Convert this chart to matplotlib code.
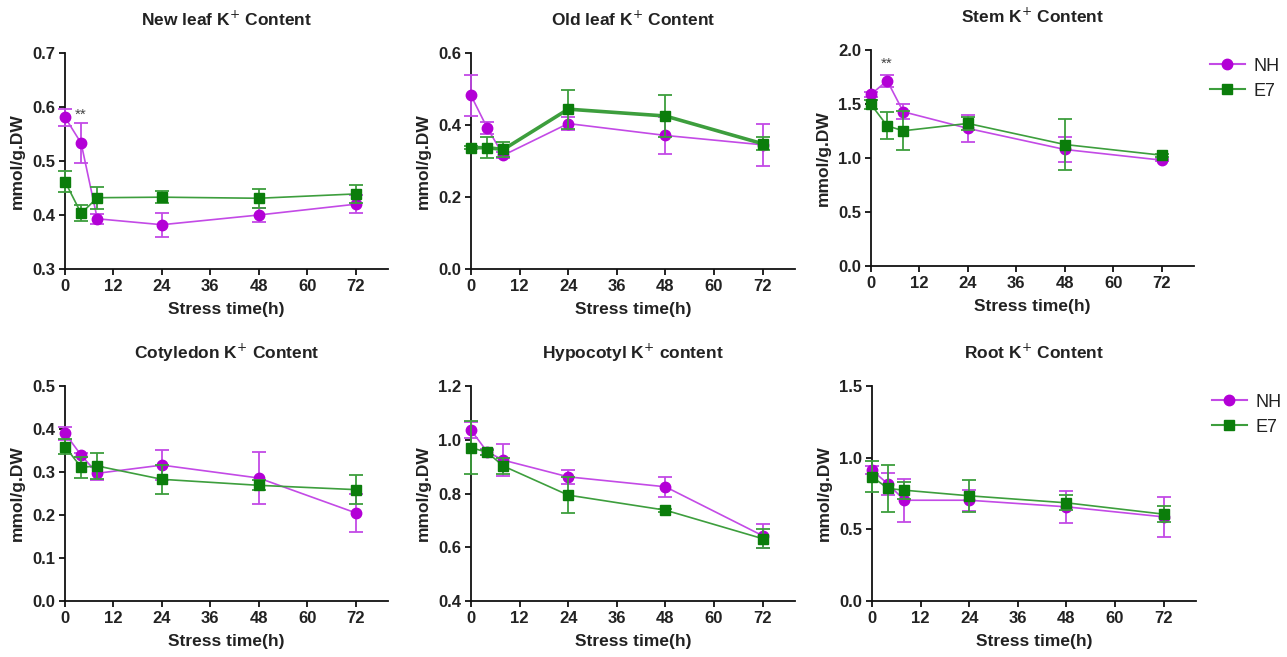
import matplotlib
matplotlib.use("Agg")
import matplotlib.pyplot as plt
from matplotlib.lines import Line2D

plt.rcParams['font.family'] = ['Liberation Sans', 'DejaVu Sans']

hours = [0, 4, 8, 24, 48, 72]
xticks = [0, 12, 24, 36, 48, 60, 72]

titles = ["New leaf K$^{+}$ Content", "Old leaf K$^{+}$ Content", "Stem K$^{+}$ Content",
          "Cotyledon K$^{+}$ Content", "Hypocotyl K$^{+}$ content", "Root K$^{+}$ Content"]

# NH means / errors
nh_newleaf = [0.581, 0.533, 0.393, 0.382, 0.400, 0.420]
nh_newleaf_err = [0.016, 0.037, 0.009, 0.022, 0.013, 0.017]
nh_oldleaf = [0.482, 0.392, 0.316, 0.404, 0.371, 0.345]
nh_oldleaf_err = [0.056, 0.016, 0.008, 0.017, 0.051, 0.059]
nh_stem = [1.589, 1.716, 1.428, 1.274, 1.079, 0.980]
nh_stem_err = [0.02, 0.055, 0.07, 0.125, 0.12, 0.01]
nh_coty = [0.390, 0.339, 0.297, 0.316, 0.286, 0.205]
nh_coty_err = [0.015, 0.005, 0.015, 0.035, 0.060, 0.044]
nh_hypo = [1.036, 0.955, 0.924, 0.862, 0.825, 0.643]
nh_hypo_err = [0.03, 0.01, 0.06, 0.026, 0.037, 0.044]
nh_root = [0.913, 0.815, 0.703, 0.703, 0.657, 0.587]
nh_root_err = [0.03, 0.078, 0.15, 0.072, 0.112, 0.137]

# E7 means / errors
e7_newleaf = [0.462, 0.403, 0.432, 0.433, 0.431, 0.439]
e7_newleaf_err = [0.02, 0.015, 0.02, 0.011, 0.018, 0.016]
e7_oldleaf = [0.337, 0.337, 0.332, 0.444, 0.425, 0.348]
e7_oldleaf_err = [0.005, 0.029, 0.02, 0.054, 0.057, 0.018]
e7_stem = [1.496, 1.298, 1.252, 1.320, 1.125, 1.026]
e7_stem_err = [0.04, 0.125, 0.18, 0.06, 0.235, 0.015]
e7_coty = [0.359, 0.311, 0.314, 0.283, 0.269, 0.259]
e7_coty_err = [0.017, 0.025, 0.031, 0.034, 0.012, 0.033]
e7_hypo = [0.971, 0.953, 0.902, 0.794, 0.738, 0.632]
e7_hypo_err = [0.097, 0.01, 0.03, 0.068, 0.006, 0.035]
e7_root = [0.866, 0.785, 0.773, 0.734, 0.685, 0.606]
e7_root_err = [0.108, 0.166, 0.058, 0.11, 0.052, 0.055]

ylims = [(0.3, 0.7), (0.0, 0.6), (0.0, 2.0), (0.0, 0.5), (0.4, 1.2), (0.0, 1.5)]
yticks = [[0.3, 0.4, 0.5, 0.6, 0.7], [0.0, 0.2, 0.4, 0.6], [0.0, 0.5, 1.0, 1.5, 2.0],
          [0.0, 0.1, 0.2, 0.3, 0.4, 0.5], [0.4, 0.6, 0.8, 1.0, 1.2], [0.0, 0.5, 1.0, 1.5]]

# significance marks: (panel, x, y)
sig_marks = [(0, 4, 0.585), (2, 4, 1.87)]

nh_data = [(nh_newleaf, nh_newleaf_err), (nh_oldleaf, nh_oldleaf_err), (nh_stem, nh_stem_err),
           (nh_coty, nh_coty_err), (nh_hypo, nh_hypo_err), (nh_root, nh_root_err)]
e7_data = [(e7_newleaf, e7_newleaf_err), (e7_oldleaf, e7_oldleaf_err), (e7_stem, e7_stem_err),
           (e7_coty, e7_coty_err), (e7_hypo, e7_hypo_err), (e7_root, e7_root_err)]

W, H = 1287, 657
fig = plt.figure(figsize=(W / 100, H / 100), dpi=100)

# axes boxes in pixels: left, top, right, bottom
boxes = [(65, 53, 388, 269), (471, 53, 795, 269), (871, 50, 1194, 266),
         (65, 386, 388, 601), (471, 386, 795, 601), (872, 386, 1196, 601)]

nh_marker = '#b300d6'
nh_line = '#c34ae6'
e7_marker = '#0b7d0b'
e7_line = '#3d9e3d'
text_c = '#222222'

for i in range(6):
    l, t, r, b = boxes[i]
    ax = fig.add_axes([l / W, 1 - b / H, (r - l) / W, (b - t) / H])
    e7_lw = 2.6 if i == 1 else 1.2
    y, e = nh_data[i]
    ax.errorbar(hours, y, yerr=e, color=nh_line, ecolor=nh_line, elinewidth=1.3, capsize=5,
                capthick=1.3, lw=1.2, marker='o', ms=7.5, mfc=nh_marker, mec=nh_marker,
                zorder=3, clip_on=False)
    y, e = e7_data[i]
    ax.errorbar(hours, y, yerr=e, color=e7_line, ecolor=e7_line, elinewidth=1.3, capsize=5,
                capthick=1.3, lw=e7_lw, marker='s', ms=7.5, mfc=e7_marker, mec=e7_marker,
                zorder=4, clip_on=False)
    ax.set_xlim(0, 80)
    ax.set_ylim(*ylims[i])
    ax.set_xticks(xticks)
    ax.set_yticks(yticks[i])
    ax.set_yticklabels(["%.1f" % v for v in yticks[i]])
    for s in ['top', 'right']:
        ax.spines[s].set_visible(False)
    for s in ['left', 'bottom']:
        ax.spines[s].set_linewidth(1.3)
        ax.spines[s].set_color('#111111')
    ax.tick_params(axis='both', direction='out', length=4, width=1.3, color='#111111',
                   labelsize=12, labelcolor=text_c, pad=3)
    for lab in ax.get_xticklabels() + ax.get_yticklabels():
        lab.set_fontweight('bold')
    ax.set_xlabel("Stress time(h)", fontsize=12.5, fontweight='bold', color=text_c, labelpad=6)
    ax.set_ylabel("mmol/g.DW", fontsize=12.5, fontweight='bold', color=text_c, labelpad=5)
    ax.set_title(titles[i], fontsize=12.5, fontweight='bold', color=text_c, pad=20)
    if i in (2, 5):
        handles = [Line2D([], [], color=nh_line, lw=1.5, marker='o', ms=7.5, mfc=nh_marker, mec=nh_marker),
                   Line2D([], [], color=e7_line, lw=1.5, marker='s', ms=7.5, mfc=e7_marker, mec=e7_marker)]
        ax.legend(handles, ['NH', 'E7'], loc='upper left', bbox_to_anchor=(1.0, 1.04), frameon=False,
                  fontsize=13, handlelength=1.9, labelspacing=0.45, handletextpad=0.5,
                  labelcolor=text_c)

for p, xs, ys in sig_marks:
    ax = fig.axes[p]
    ax.text(xs, ys, "**", ha='center', va='center', fontsize=11, color='#444444')

fig.savefig("out.png", dpi=100)
